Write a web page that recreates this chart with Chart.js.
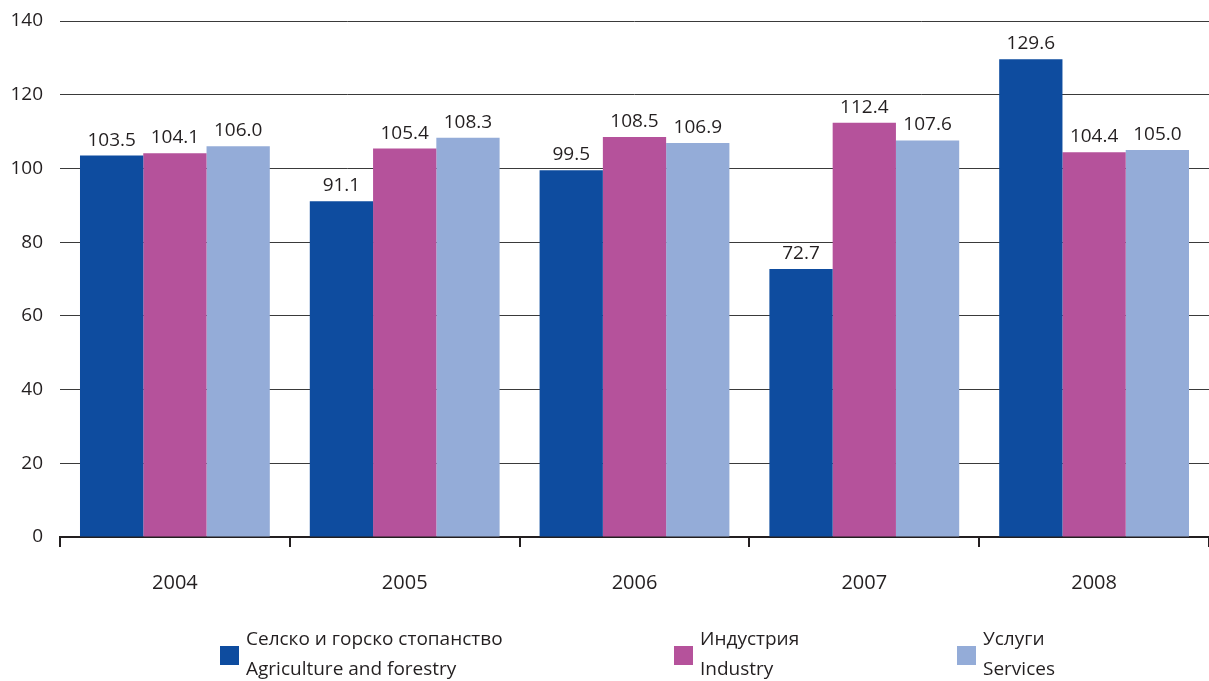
<!DOCTYPE html>
<html>
<head>
<meta charset="utf-8">
<script src="https://cdn.jsdelivr.net/npm/chart.js@4"></script>
<style>
  html, body { margin: 0; padding: 0; background: #ffffff; }
  #wrap { width: 1209px; height: 681px; position: relative; }
</style>
</head>
<body>
<div id="wrap"><canvas id="c" width="1209" height="681"></canvas></div>
<script>
const categories = ['2004', '2005', '2006', '2007', '2008'];
const agriculture = [103.5, 91.1, 99.5, 72.7, 129.6];
const industry = [104.1, 105.4, 108.5, 112.4, 104.4];
const services = [106.0, 108.3, 106.9, 107.6, 105.0];
const yTicks = [0, 20, 40, 60, 80, 100, 120, 140];
const seriesNamesBg = ['Селско и горско стопанство', 'Индустрия', 'Услуги'];
const seriesNamesEn = ['Agriculture and forestry', 'Industry', 'Services'];
const seriesColors = ['#0e4c9f', '#b5529b', '#94acd8'];

const FONT = '"Open Sans", "Noto Sans", sans-serif';
const TEXT = '#231f20';

const valueLabels = {
  id: 'valueLabels',
  afterDatasetsDraw(chart) {
    const ctx = chart.ctx;
    ctx.save();
    ctx.font = '19px ' + FONT;
    ctx.fillStyle = TEXT;
    ctx.textAlign = 'center';
    ctx.textBaseline = 'alphabetic';
    chart.data.datasets.forEach((ds, di) => {
      const meta = chart.getDatasetMeta(di);
      meta.data.forEach((bar, i) => {
        ctx.fillText(ds.data[i].toFixed(1), bar.x, bar.y - 10);
      });
    });
    ctx.restore();
  }
};

const bottomLegend = {
  id: 'bottomLegend',
  afterDraw(chart) {
    const ctx = chart.ctx;
    const boxX = [220, 674, 957];
    ctx.save();
    ctx.font = '19px ' + FONT;
    ctx.textAlign = 'left';
    ctx.textBaseline = 'middle';
    chart.data.datasets.forEach((ds, i) => {
      ctx.fillStyle = ds.backgroundColor;
      ctx.fillRect(boxX[i], 646, 19, 19);
      ctx.fillStyle = TEXT;
      ctx.fillText(seriesNamesBg[i], boxX[i] + 26, 640);
      ctx.fillText(seriesNamesEn[i], boxX[i] + 26, 670);
    });
    ctx.restore();
  }
};

new Chart(document.getElementById('c'), {
  type: 'bar',
  data: {
    labels: categories,
    datasets: [
      { label: seriesNamesBg[0] + ' / ' + seriesNamesEn[0], data: agriculture, backgroundColor: seriesColors[0] },
      { label: seriesNamesBg[1] + ' / ' + seriesNamesEn[1], data: industry, backgroundColor: seriesColors[1] },
      { label: seriesNamesBg[2] + ' / ' + seriesNamesEn[2], data: services, backgroundColor: seriesColors[2] }
    ]
  },
  options: {
    responsive: false,
    devicePixelRatio: 1,
    animation: false,
    events: [],
    layout: { padding: { top: 21, right: 0, bottom: 0, left: 0 } },
    datasets: { bar: { categoryPercentage: 0.826, barPercentage: 1.0, borderWidth: 0 } },
    plugins: {
      legend: { display: false },
      tooltip: { enabled: false },
      title: { display: false }
    },
    scales: {
      x: {
        offset: true,
        grid: { offset: true, drawOnChartArea: false, drawTicks: true, tickLength: 10, color: TEXT, lineWidth: 2 },
        border: { display: true, width: 2, color: TEXT },
        ticks: { font: { family: FONT, size: 20 }, color: TEXT, padding: 24, maxRotation: 0 },
        afterFit(scale) { scale.height = 144; scale.paddingLeft = 0; scale.paddingRight = 0; }
      },
      y: {
        min: 0,
        max: 140,
        afterBuildTicks(scale) { scale.ticks = yTicks.map(v => ({ value: v })); },
        grid: { color: '#3a3a3a', lineWidth: 1, drawTicks: false },
        border: { display: false },
        ticks: { font: { family: FONT, size: 19 }, color: TEXT, padding: 17 },
        afterFit(scale) { scale.width = 60; scale.paddingTop = 0; scale.paddingBottom = 0; }
      }
    }
  },
  plugins: [valueLabels, bottomLegend]
});
</script>
</body>
</html>
